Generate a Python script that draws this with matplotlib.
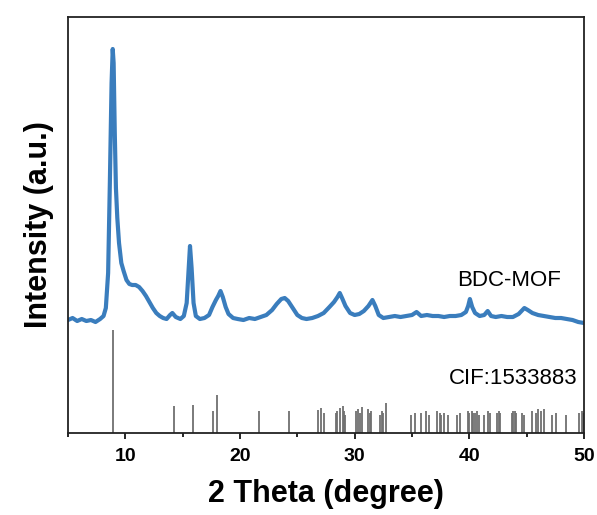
import matplotlib
matplotlib.use("Agg")
import matplotlib.pyplot as plt
from matplotlib.ticker import MultipleLocator

plt.rcParams['font.family'] = ['Liberation Sans', 'DejaVu Sans']

# measured pattern (2 theta, intensity in a.u., already offset)
two_theta = [5.0, 5.4, 5.8, 6.2, 6.6, 7.0, 7.4, 7.8, 8.1, 8.3, 8.5, 8.65, 8.8, 8.9,
             8.98, 9.08, 9.18, 9.3, 9.45, 9.65, 9.85, 10.1, 10.35, 10.6, 10.9, 11.2,
             11.5, 11.8, 12.1, 12.4, 12.7, 13.0, 13.3, 13.6, 13.9, 14.1, 14.4, 14.8,
             15.1, 15.35, 15.5, 15.64, 15.78, 15.95, 16.15, 16.5, 16.9, 17.3, 17.6,
             17.9, 18.1, 18.3, 18.5, 18.75, 19.0, 19.4, 19.8, 20.3, 20.8, 21.3, 21.8,
             22.3, 22.8, 23.2, 23.6, 23.9, 24.2, 24.6, 25.0, 25.4, 25.8, 26.3, 26.8,
             27.3, 27.8, 28.2, 28.5, 28.7, 28.9, 29.2, 29.6, 30.0, 30.4, 30.8, 31.2,
             31.55, 31.8, 32.1, 32.5, 33.0, 33.5, 34.0, 34.5, 35.0, 35.4, 35.8, 36.3,
             36.8, 37.3, 37.8, 38.3, 38.8, 39.3, 39.7, 39.9, 40.05, 40.25, 40.5, 40.9,
             41.3, 41.6, 41.9, 42.3, 42.8, 43.3, 43.8, 44.3, 44.8, 45.1, 45.5, 46.0,
             46.5, 47.0, 47.5, 48.0, 48.5, 49.0, 49.5, 50.0]
intensity = [113, 115, 112, 114, 112, 113, 111, 114, 117, 125, 160, 250, 350, 384,
             370, 300, 245, 215, 190, 170, 162, 153, 149, 148, 148, 146,
             142, 137, 131, 125, 120, 117, 115, 114, 118, 120, 116, 114,
             117, 130, 160, 187, 165, 130, 117, 114, 115, 118, 126,
             133, 137, 142, 136, 126, 119, 115, 114, 113, 115, 114, 116,
             118, 123, 129, 134, 135, 132, 125, 118, 115, 114, 115, 117,
             120, 126, 131, 136, 140, 135, 127, 120, 118, 119, 122, 127,
             133, 127, 118, 115, 116, 117, 116, 117, 118, 121, 117, 118,
             117, 117, 116, 117, 117, 118, 121, 127, 134, 126, 120, 117,
             118, 122, 117, 116, 117, 116, 116, 119, 125, 123, 120, 118,
             117, 116, 115, 115, 114, 113, 111, 110]

# reference pattern CIF:1533883 (2 theta, relative height)
cif_pos = [8.95, 14.27, 15.93, 17.67, 17.99, 21.67, 24.27, 26.83, 27.1, 27.3,
           28.35, 28.5, 28.7, 28.95, 29.1, 29.2, 30.1, 30.3, 30.5, 30.6,
           31.15, 31.3, 31.45, 32.2, 32.35, 32.5, 32.7, 34.9, 35.3, 35.75,
           36.2, 36.5, 37.15, 37.4, 37.55, 37.75, 38.1, 38.9, 39.2, 39.9,
           40.0, 40.2, 40.3, 40.5, 40.7, 40.85, 41.3, 41.6, 41.8, 42.4,
           42.6, 42.7, 43.7, 43.8, 44.0, 44.1, 44.6, 44.8, 45.5, 45.8,
           46.0, 46.25, 46.5, 47.2, 47.6, 48.4, 49.6, 49.8, 49.95]
cif_int = [103, 27, 28, 22, 38, 22, 22, 23, 25, 20,
           20, 22, 25, 27, 22, 18, 22, 24, 20, 26,
           24, 20, 22, 18, 22, 20, 30, 18, 20, 20,
           22, 18, 22, 20, 18, 20, 18, 18, 20, 22,
           20, 22, 20, 20, 22, 18, 18, 22, 20, 20,
           22, 20, 20, 22, 22, 20, 20, 18, 22, 20,
           24, 22, 24, 18, 20, 18, 20, 22, 20]

fig = plt.figure(figsize=(5.97, 5.15), dpi=100)
ax = fig.add_axes([0.1139, 0.1592, 0.8643, 0.8078])

ax.plot(two_theta, intensity, color='#3a7dbd', lw=3.0, solid_joinstyle='round')
ax.vlines(cif_pos, 0, cif_int, color='#707070', lw=1.3)

ax.text(47.98, 153, 'BDC-MOF', ha='right', va='center', fontsize=16)
ax.text(49.46, 55, 'CIF:1533883', ha='right', va='center', fontsize=16)

ax.set_xlim(5, 50)
ax.set_ylim(0, 416)
ax.set_yticks([])
ax.xaxis.set_major_locator(MultipleLocator(10))
ax.xaxis.set_minor_locator(MultipleLocator(5))
ax.tick_params(axis='x', which='major', direction='out', length=4, width=1.2,
               labelsize=14, pad=7)
ax.tick_params(axis='x', which='minor', direction='out', length=3, width=1.2)
for lab in ax.get_xticklabels():
    lab.set_fontweight('bold')
for sp in ax.spines.values():
    sp.set_linewidth(1.3)
    sp.set_color('#222222')

ax.set_xlabel('2 Theta (degree)', fontsize=22, fontweight='bold', labelpad=10)
ax.set_ylabel('Intensity (a.u.)', fontsize=22, fontweight='bold', labelpad=10)

fig.savefig('out.png', dpi=100)
